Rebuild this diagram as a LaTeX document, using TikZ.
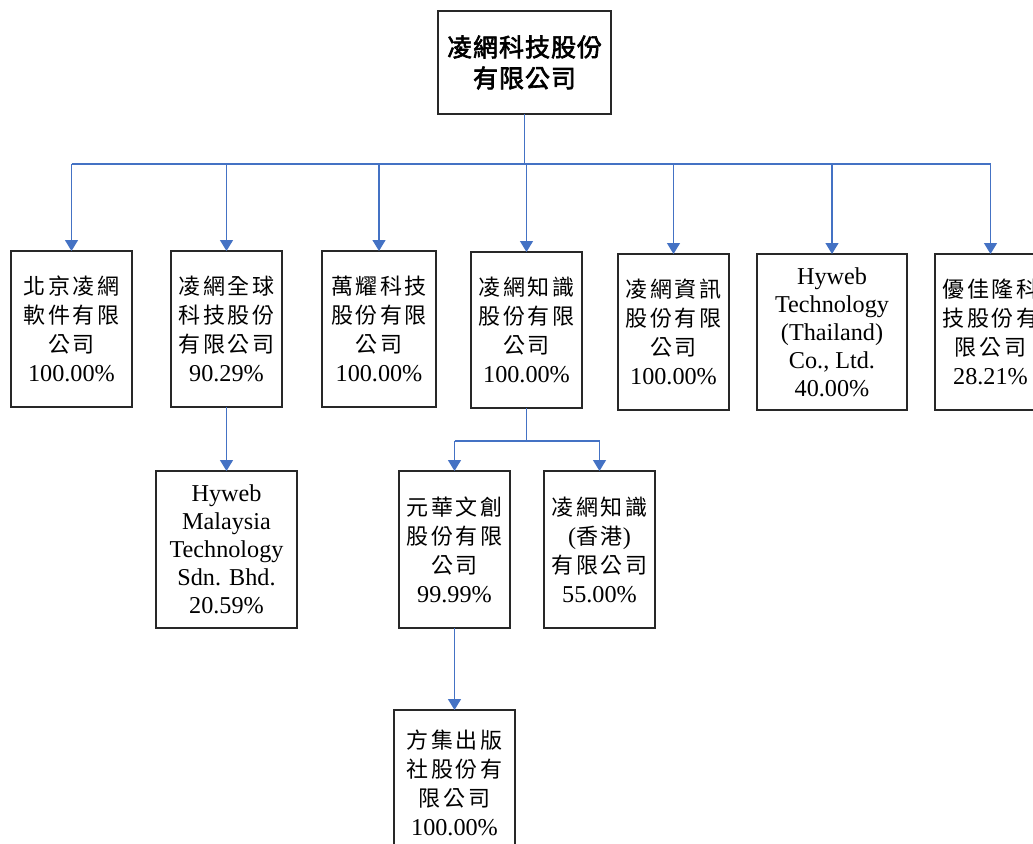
\documentclass[tikz,border=0pt]{standalone}
\usepackage{fontspec}
\setmainfont[Scale=1.1]{Liberation Serif}
\newfontfamily\cjk[LetterSpace=12]{Noto Sans CJK TC}
\newfontfamily\cjkb[LetterSpace=4,FakeBold=2.5]{Noto Sans CJK TC}
\usetikzlibrary{arrows.meta}
\definecolor{conn}{RGB}{68,114,196}
\definecolor{frame}{RGB}{40,40,40}
\tikzset{
  box/.style={draw=frame, line width=1.1pt, fill=white, inner sep=0pt, outer sep=0pt,
    anchor=north west, align=center, font=\fontsize{22}{29}\selectfont},
  topbox/.style={box, font=\fontsize{25}{31}\selectfont},
  link/.style={draw=conn, line width=1.3pt},
  arr/.style={link, -{Triangle[width=13pt,length=11pt]}}
}
\begin{document}
\begin{tikzpicture}[x=1pt,y=-1pt]
\useasboundingbox (0,0) rectangle (1033,843);
\clip (0,0) rectangle (1033,843);
% top
\node[topbox, minimum width=173, minimum height=103] (top) at (438,11) {\cjkb 凌網科技股份\\\cjkb 有限公司};
% level 1
\node[box, minimum width=121, minimum height=156] (n1) at (11,251) {\cjk 北京凌網\\\cjk 軟件有限\\\cjk 公司\\100.00\%};
\node[box, minimum width=111, minimum height=156] (n2) at (171,251) {\cjk 凌網全球\\\cjk 科技股份\\\cjk 有限公司\\90.29\%};
\node[box, minimum width=114, minimum height=156] (n3) at (322,251) {\cjk 萬耀科技\\\cjk 股份有限\\\cjk 公司\\100.00\%};
\node[box, minimum width=111, minimum height=156] (n4) at (471,252) {\cjk 凌網知識\\\cjk 股份有限\\\cjk 公司\\100.00\%};
\node[box, minimum width=111, minimum height=156] (n5) at (618,254) {\cjk 凌網資訊\\\cjk 股份有限\\\cjk 公司\\100.00\%};
\node[box, minimum width=150, minimum height=156, font=\fontsize{22}{28}\selectfont] (n6) at (757,254) {Hyweb\\Technology\\(Thailand)\\Co., Ltd.\\40.00\%};
\node[box, minimum width=111, minimum height=156] (n7) at (935,254) {\cjk 優佳隆科\\\cjk 技股份有\\\cjk 限公司\\28.21\%};
% level 2
\node[box, minimum width=141, minimum height=157, font=\fontsize{22}{28}\selectfont] (m1) at (156,471) {Hyweb\\Malaysia\\Technology\\Sdn. Bhd.\\20.59\%};
\node[box, minimum width=111, minimum height=157] (y1) at (399,471) {\cjk 元華文創\\\cjk 股份有限\\\cjk 公司\\99.99\%};
\node[box, minimum width=111, minimum height=157] (h1) at (544,471) {\cjk 凌網知識\\({\cjk 香港})\\\cjk 有限公司\\55.00\%};
% level 3
\node[box, minimum width=121, minimum height=146] (f1) at (394,710) {\cjk 方集出版\\\cjk 社股份有\\\cjk 限公司\\100.00\%};
% connectors
\coordinate (bus) at (524,164);
\coordinate (bus2) at (526,441);
\path[link] (top.south) -- (top.south |- bus);
\path[link] (n1.north |- bus) -- (n7.north |- bus);
\foreach \n in {n1,n2,n3,n4,n5,n6,n7}{
  \path[arr] (\n.north |- bus) -- (\n.north);
}
\path[arr] (n2.south) -- (m1.north);
\path[link] (n4.south) -- (n4.south |- bus2);
\path[link] (y1.north |- bus2) -- (h1.north |- bus2);
\path[arr] (y1.north |- bus2) -- (y1.north);
\path[arr] (h1.north |- bus2) -- (h1.north);
\path[arr] (y1.south) -- (f1.north);
\end{tikzpicture}
\end{document}
